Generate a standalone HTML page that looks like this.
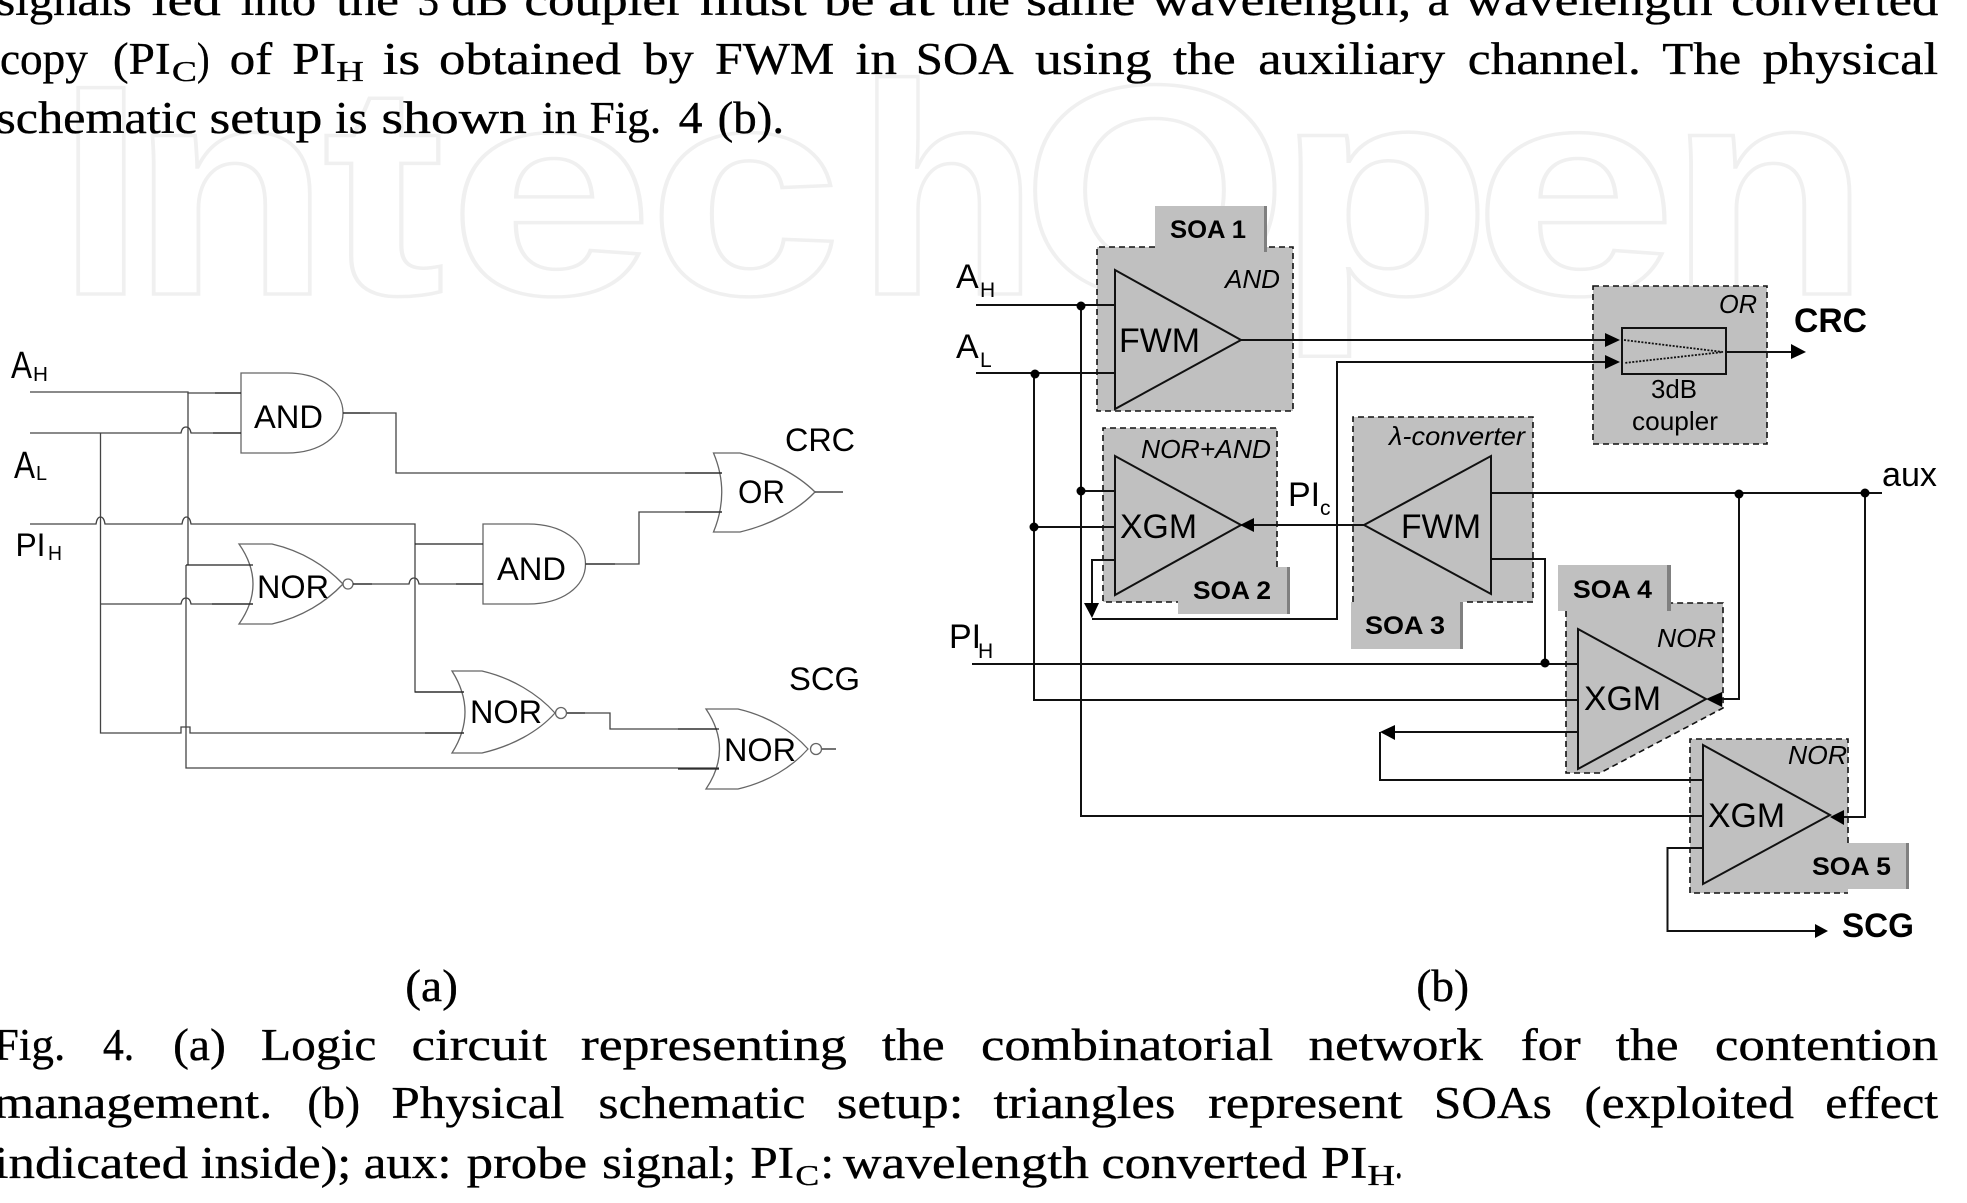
<!DOCTYPE html>
<html><head><meta charset="utf-8"><style>
html,body{margin:0;padding:0;background:#fff}
svg{display:block}
.s{font-family:"Liberation Serif",serif;font-size:45px;fill:#000;stroke:#000;stroke-width:.35}
.sub{font-size:29px}
.a{font-family:"Liberation Sans",sans-serif;fill:#000}
.g{fill:none;stroke:#666;stroke-width:1.3}
.l{fill:none;stroke:#444;stroke-width:1.3}
.k{fill:none;stroke:#111;stroke-width:2}
.d{fill:none;stroke:#111;stroke-width:1.6;stroke-dasharray:6 4}
.b{fill:#c0c0c0}
.e{fill:#808080}
.w{font-family:"Liberation Sans",sans-serif;font-weight:bold;font-size:300px;fill:#fff;stroke:#f0f0f0;stroke-width:3.5}
</style></head><body>
<svg xmlns="http://www.w3.org/2000/svg" width="1967" height="1203" viewBox="0 0 1967 1203">
<g class="w">
<text x="57" y="294" textLength="88" lengthAdjust="spacingAndGlyphs">I</text>
<text x="131" y="294" textLength="199" lengthAdjust="spacingAndGlyphs">n</text>
<text x="322" y="294" textLength="123" lengthAdjust="spacingAndGlyphs">t</text>
<text x="448" y="294" textLength="206" lengthAdjust="spacingAndGlyphs">e</text>
<text x="648" y="294" textLength="194" lengthAdjust="spacingAndGlyphs">c</text>
<text x="856" y="294" textLength="183" lengthAdjust="spacingAndGlyphs">h</text>
<text x="1021" y="294" textLength="268" lengthAdjust="spacingAndGlyphs">O</text>
<text x="1276" y="294" textLength="216" lengthAdjust="spacingAndGlyphs">p</text>
<text x="1473" y="294" textLength="204" lengthAdjust="spacingAndGlyphs">e</text>
<text x="1668" y="294" textLength="202" lengthAdjust="spacingAndGlyphs">n</text>
</g>

<g transform="scale(1.2545,1)" class="s">
<text x="-3" y="15" textLength="108" lengthAdjust="spacingAndGlyphs">signals</text><text x="121" y="15" textLength="55" lengthAdjust="spacingAndGlyphs">led</text><text x="192" y="15" textLength="60" lengthAdjust="spacingAndGlyphs">into</text><text x="268" y="15" textLength="50" lengthAdjust="spacingAndGlyphs">the</text><text x="333" y="15" textLength="17" lengthAdjust="spacingAndGlyphs">3</text><text x="360" y="15" textLength="45" lengthAdjust="spacingAndGlyphs">dB</text><text x="418" y="15" textLength="127" lengthAdjust="spacingAndGlyphs">coupler</text><text x="558" y="15" textLength="85" lengthAdjust="spacingAndGlyphs">must</text><text x="657" y="15" textLength="40" lengthAdjust="spacingAndGlyphs">be</text><text x="708" y="15" textLength="37" lengthAdjust="spacingAndGlyphs">at</text><text x="758" y="15" textLength="47" lengthAdjust="spacingAndGlyphs">the</text><text x="818" y="15" textLength="87" lengthAdjust="spacingAndGlyphs">same</text><text x="918" y="15" textLength="207" lengthAdjust="spacingAndGlyphs">wavelength,</text><text x="1138" y="15" textLength="17" lengthAdjust="spacingAndGlyphs">a</text><text x="1168" y="15" textLength="197" lengthAdjust="spacingAndGlyphs">wavelength</text><text x="1380" y="15" textLength="165" lengthAdjust="spacingAndGlyphs">converted</text>

<text x="0" y="74" textLength="70" lengthAdjust="spacingAndGlyphs">copy</text><text x="90" y="74" textLength="46" lengthAdjust="spacingAndGlyphs">(PI</text><text x="137" y="81" class="sub" textLength="20" lengthAdjust="spacingAndGlyphs">C</text><text x="157" y="74" textLength="10" lengthAdjust="spacingAndGlyphs">)</text><text x="183" y="74" textLength="34" lengthAdjust="spacingAndGlyphs">of</text><text x="233" y="74" textLength="35" lengthAdjust="spacingAndGlyphs">PI</text><text x="268" y="81" class="sub" textLength="22" lengthAdjust="spacingAndGlyphs">H</text><text x="305" y="74" textLength="30" lengthAdjust="spacingAndGlyphs">is</text><text x="350" y="74" textLength="145" lengthAdjust="spacingAndGlyphs">obtained</text><text x="513" y="74" textLength="40" lengthAdjust="spacingAndGlyphs">by</text><text x="570" y="74" textLength="95" lengthAdjust="spacingAndGlyphs">FWM</text><text x="682" y="74" textLength="33" lengthAdjust="spacingAndGlyphs">in</text><text x="730" y="74" textLength="78" lengthAdjust="spacingAndGlyphs">SOA</text><text x="825" y="74" textLength="93" lengthAdjust="spacingAndGlyphs">using</text><text x="935" y="74" textLength="50" lengthAdjust="spacingAndGlyphs">the</text><text x="1003" y="74" textLength="149" lengthAdjust="spacingAndGlyphs">auxiliary</text><text x="1170" y="74" textLength="138" lengthAdjust="spacingAndGlyphs">channel.</text><text x="1325" y="74" textLength="63" lengthAdjust="spacingAndGlyphs">The</text><text x="1405" y="74" textLength="140" lengthAdjust="spacingAndGlyphs">physical</text>

<text x="-3" y="133" textLength="160" lengthAdjust="spacingAndGlyphs">schematic</text><text x="167" y="133" textLength="90" lengthAdjust="spacingAndGlyphs">setup</text><text x="267" y="133" textLength="26" lengthAdjust="spacingAndGlyphs">is</text><text x="304" y="133" textLength="116" lengthAdjust="spacingAndGlyphs">shown</text><text x="432" y="133" textLength="28" lengthAdjust="spacingAndGlyphs">in</text><text x="470" y="133" textLength="57" lengthAdjust="spacingAndGlyphs">Fig.</text><text x="541" y="133" textLength="19" lengthAdjust="spacingAndGlyphs">4</text><text x="572" y="133" textLength="53" lengthAdjust="spacingAndGlyphs">(b).</text>

<text x="323" y="1001" textLength="42" lengthAdjust="spacingAndGlyphs">(a)</text><text x="1129" y="1001" textLength="42" lengthAdjust="spacingAndGlyphs">(b)</text>

<text x="-5" y="1060" textLength="57" lengthAdjust="spacingAndGlyphs">Fig.</text><text x="82" y="1060" textLength="25" lengthAdjust="spacingAndGlyphs">4.</text><text x="138" y="1060" textLength="42" lengthAdjust="spacingAndGlyphs">(a)</text><text x="208" y="1060" textLength="92" lengthAdjust="spacingAndGlyphs">Logic</text><text x="328" y="1060" textLength="108" lengthAdjust="spacingAndGlyphs">circuit</text><text x="463" y="1060" textLength="212" lengthAdjust="spacingAndGlyphs">representing</text><text x="703" y="1060" textLength="50" lengthAdjust="spacingAndGlyphs">the</text><text x="782" y="1060" textLength="233" lengthAdjust="spacingAndGlyphs">combinatorial</text><text x="1043" y="1060" textLength="139" lengthAdjust="spacingAndGlyphs">network</text><text x="1212" y="1060" textLength="48" lengthAdjust="spacingAndGlyphs">for</text><text x="1288" y="1060" textLength="50" lengthAdjust="spacingAndGlyphs">the</text><text x="1367" y="1060" textLength="178" lengthAdjust="spacingAndGlyphs">contention</text>

<text x="-5" y="1118" textLength="222" lengthAdjust="spacingAndGlyphs">management.</text><text x="245" y="1118" textLength="42" lengthAdjust="spacingAndGlyphs">(b)</text><text x="312" y="1118" textLength="138" lengthAdjust="spacingAndGlyphs">Physical</text><text x="477" y="1118" textLength="165" lengthAdjust="spacingAndGlyphs">schematic</text><text x="667" y="1118" textLength="101" lengthAdjust="spacingAndGlyphs">setup:</text><text x="792" y="1118" textLength="145" lengthAdjust="spacingAndGlyphs">triangles</text><text x="963" y="1118" textLength="155" lengthAdjust="spacingAndGlyphs">represent</text><text x="1143" y="1118" textLength="94" lengthAdjust="spacingAndGlyphs">SOAs</text><text x="1263" y="1118" textLength="167" lengthAdjust="spacingAndGlyphs">(exploited</text><text x="1455" y="1118" textLength="90" lengthAdjust="spacingAndGlyphs">effect</text>

<text x="-5" y="1178" textLength="155" lengthAdjust="spacingAndGlyphs">indicated</text><text x="160" y="1178" textLength="120" lengthAdjust="spacingAndGlyphs">inside);</text><text x="290" y="1178" textLength="70" lengthAdjust="spacingAndGlyphs">aux:</text><text x="372" y="1178" textLength="96" lengthAdjust="spacingAndGlyphs">probe</text><text x="480" y="1178" textLength="107" lengthAdjust="spacingAndGlyphs">signal;</text><text x="598" y="1178" textLength="35" lengthAdjust="spacingAndGlyphs">PI</text><text x="634" y="1185" class="sub" textLength="19" lengthAdjust="spacingAndGlyphs">C</text><text x="654" y="1178" textLength="11" lengthAdjust="spacingAndGlyphs">:</text><text x="672" y="1178" textLength="196" lengthAdjust="spacingAndGlyphs">wavelength</text><text x="878" y="1178" textLength="164" lengthAdjust="spacingAndGlyphs">converted</text><text x="1053" y="1178" textLength="37" lengthAdjust="spacingAndGlyphs">PI</text><text x="1090" y="1185" class="sub" textLength="22" lengthAdjust="spacingAndGlyphs">H</text><text x="1112" y="1178" textLength="6" lengthAdjust="spacingAndGlyphs">.</text>
</g>

<!-- (a) logic circuit -->
<g>
<path class="g" d="M241 373H287C320 373 343 390 343 413C343 436 320 453 287 453H241Z"/>
<path class="g" d="M483 524H528C562 524 585.500 541 585.500 564C585.500 587 562 604 528 604H483Z"/>
<path class="g" d="M713.500 453H740C770 460 798 475 815 492C798 510 770 525 740 532H713.500Q730 492 713.500 453Z"/>
<path class="g" d="M239 544H272C302 551 326 566 343 584C326 602 302 617 272 624H239Q267 584 239 544Z"/>
<circle class="g" cx="348" cy="584" r="5"/>
<path class="g" d="M452 671H482C512 678 538 694 555 713C538 732 512 746 482 753H452Q478 712 452 671Z"/>
<circle class="g" cx="561" cy="713" r="5.500"/>
<path class="g" d="M706 709H738C768 716 792 731 808 749C792 767 768 782 738 789H706Q733 749 706 709Z"/>
<circle class="g" cx="816" cy="749" r="5.500"/>

<path class="l" d="M30 392H188V393H241"/>
<path class="l" d="M30 433H181Q182 427 186 427Q190 427 191 433H241"/>
<path class="l" d="M188 393V565"/>
<path class="l" d="M186 565V768H719"/>
<path class="l" d="M100.500 433V733H181V727H190V733H464"/>
<path class="l" d="M100.500 604H181Q182 598 186 598Q190 598 191 604H253"/>
<path class="l" d="M30 524H96Q97 517 100.500 517Q104 517 105 524H182Q183 517 186.500 517Q190 517 191 524H415V692H464"/>
<path class="l" d="M353 584H409Q410 578 414 578Q418 578 419 584H483"/>
<path class="l" d="M343 413H396V473H722"/>
<path class="l" d="M585.500 564H639V512H722"/>
<path class="l" d="M567 713H610V729H717"/>
<path d="M215 393H241M213 433H241M343 413H370M685 473H722M685 512H722M815 492H843M415 544H483M456 584H483M585.500 564H615M186 565H253M212 604H253M425 733H464M415 692H464M678 729H719M678 769H719M567 713H585M822 749H836M353 584H372" stroke="#222" stroke-width="1.300" fill="none"/>

<g class="a" font-size="32">
<text x="254" y="428" textLength="69" lengthAdjust="spacingAndGlyphs">AND</text>
<text x="497" y="580" textLength="69" lengthAdjust="spacingAndGlyphs">AND</text>
<text x="257" y="598" textLength="72" lengthAdjust="spacingAndGlyphs">NOR</text>
<text x="470" y="723" textLength="72" lengthAdjust="spacingAndGlyphs">NOR</text>
<text x="724" y="761" textLength="72" lengthAdjust="spacingAndGlyphs">NOR</text>
<text x="738" y="503" textLength="47" lengthAdjust="spacingAndGlyphs">OR</text>
<text x="785" y="451" textLength="70" lengthAdjust="spacingAndGlyphs">CRC</text>
<text x="789" y="690" textLength="71" lengthAdjust="spacingAndGlyphs">SCG</text>
<text x="11" y="378" font-size="38" textLength="21" lengthAdjust="spacingAndGlyphs">A</text>
<text x="33" y="381" font-size="20" textLength="15" lengthAdjust="spacingAndGlyphs">H</text>
<text x="14" y="478" font-size="38" textLength="21" lengthAdjust="spacingAndGlyphs">A</text>
<text x="36" y="480" font-size="20" textLength="11" lengthAdjust="spacingAndGlyphs">L</text>
<text x="15.500" y="556" textLength="30" lengthAdjust="spacingAndGlyphs">PI</text>
<text x="48" y="560" font-size="20" textLength="14" lengthAdjust="spacingAndGlyphs">H</text>
</g>
</g>

<!-- (b) physical setup -->
<g>
<rect class="b" x="1097" y="247" width="196" height="164"/>
<rect class="b" x="1155" y="206" width="112" height="46"/>
<rect class="e" x="1264" y="206" width="3" height="46"/>
<path class="d" d="M1155 247H1097V411H1293V247H1267"/>

<rect class="b" x="1103" y="428" width="174" height="174"/>
<rect class="b" x="1178" y="567" width="112" height="47"/>
<rect class="e" x="1287" y="567" width="3" height="47"/>
<path class="d" d="M1277 567V428H1103V602H1178"/>

<rect class="b" x="1353" y="417" width="180" height="185"/>
<rect class="b" x="1351" y="602" width="112" height="47"/>
<rect class="e" x="1460" y="602" width="3" height="47"/>
<path class="d" d="M1353 602V417H1533V602H1463"/>

<polygon class="b" points="1566,603 1723,603 1723,708 1600,773 1566,773"/>
<rect class="b" x="1558" y="565" width="113" height="46"/>
<rect class="e" x="1667" y="565" width="4" height="46"/>
<path class="d" d="M1566 611V773H1600L1723 708V603H1671"/>

<rect class="b" x="1690" y="739" width="158" height="154"/>
<rect class="b" x="1780" y="843" width="129" height="46"/>
<rect class="e" x="1906" y="843" width="3" height="46"/>
<path class="d" d="M1848 843V739H1690V893H1848"/>

<rect class="b" x="1593" y="286" width="174" height="158"/>
<path class="d" d="M1593 286H1767V444H1593Z"/>

<g class="k">
<polygon points="1115,270 1241,340 1115,409"/>
<polygon points="1115,456 1241,525 1115,595"/>
<polygon points="1364,525 1491,456 1491,594"/>
<polygon points="1578,629 1706,699 1578,769"/>
<polygon points="1703,745 1830,815 1703,884"/>
<rect x="1622" y="328" width="104" height="46"/>
<path d="M976 305H1115M976 373H1115"/>
<path d="M1081 305V816H1703"/>
<path d="M1081 491H1115"/>
<path d="M1034 373V700H1578"/>
<path d="M1034 527H1115"/>
<path d="M1115 560H1092V610"/>
<path d="M1092 619H1337V362H1605"/>
<path d="M1241 340H1605"/>
<path d="M1726 352H1791"/>
<path d="M1254 525H1364"/>
<path d="M1491 493H1882"/>
<path d="M1491 559H1545V663"/>
<path d="M972 664H1578"/>
<path d="M1739 493V699H1722"/>
<path d="M1865 493V817H1844"/>
<path d="M1578 732H1395"/>
<path d="M1380 732V780H1703"/>
<path d="M1703 848H1667.500V931H1815"/>
</g>
<path d="M1624 340L1723 352L1624 363" fill="none" stroke="#111" stroke-width="1.800" stroke-dasharray="2 1.500"/>
<g fill="#000">
<polygon points="1620,340 1605,333 1605,347"/>
<polygon points="1620,362 1605,355 1605,369"/>
<polygon points="1806,352 1791,344 1791,359"/>
<polygon points="1240,525 1254,518 1254,532"/>
<polygon points="1092,618 1084,603 1099,603"/>
<polygon points="1706,699 1722,692 1722,707"/>
<polygon points="1380,732 1395,725 1395,740"/>
<polygon points="1830,817 1844,810 1844,825"/>
<polygon points="1828,931 1815,924 1815,938"/>
<circle cx="1081" cy="306" r="4.500"/><circle cx="1035" cy="374" r="4.500"/><circle cx="1081" cy="491" r="4.500"/><circle cx="1034" cy="527" r="4.500"/>
<circle cx="1739" cy="494" r="4.500"/><circle cx="1865" cy="493" r="4.500"/><circle cx="1545" cy="663" r="4.500"/>
</g>

<g class="a" font-size="34">
<text x="956" y="288">A</text><text x="980" y="297" font-size="21">H</text>
<text x="956" y="358">A</text><text x="980" y="367" font-size="21">L</text>
<text x="949" y="648">PI</text><text x="978" y="658" font-size="21">H</text>
<text x="1288" y="506">PI</text><text x="1320" y="515" font-size="21">c</text>
<text x="1119" y="352" textLength="81" lengthAdjust="spacingAndGlyphs">FWM</text>
<text x="1120" y="538" textLength="77" lengthAdjust="spacingAndGlyphs">XGM</text>
<text x="1401" y="538" textLength="80" lengthAdjust="spacingAndGlyphs">FWM</text>
<text x="1584" y="710" textLength="77" lengthAdjust="spacingAndGlyphs">XGM</text>
<text x="1708" y="827" textLength="77" lengthAdjust="spacingAndGlyphs">XGM</text>
<text x="1882" y="486" textLength="55" lengthAdjust="spacingAndGlyphs">aux</text>
<text x="1794" y="332" font-weight="bold" textLength="73" lengthAdjust="spacingAndGlyphs">CRC</text>
<text x="1842" y="937" font-weight="bold" textLength="72" lengthAdjust="spacingAndGlyphs">SCG</text>
</g>
<g class="a" font-size="25" font-weight="bold">
<text x="1170" y="238" textLength="76" lengthAdjust="spacingAndGlyphs">SOA 1</text>
<text x="1193" y="599" textLength="78" lengthAdjust="spacingAndGlyphs">SOA 2</text>
<text x="1365" y="634" textLength="80" lengthAdjust="spacingAndGlyphs">SOA 3</text>
<text x="1573" y="598" textLength="79" lengthAdjust="spacingAndGlyphs">SOA 4</text>
<text x="1812" y="875" textLength="79" lengthAdjust="spacingAndGlyphs">SOA 5</text>
</g>
<g class="a" font-size="26" font-style="italic">
<text x="1225" y="288" textLength="55" lengthAdjust="spacingAndGlyphs">AND</text>
<text x="1141" y="458" textLength="130" lengthAdjust="spacingAndGlyphs">NOR+AND</text>
<text x="1389" y="445" textLength="136" lengthAdjust="spacingAndGlyphs">λ-converter</text>
<text x="1719" y="313" textLength="38" lengthAdjust="spacingAndGlyphs">OR</text>
<text x="1657" y="647" textLength="59" lengthAdjust="spacingAndGlyphs">NOR</text>
<text x="1788" y="764" textLength="59" lengthAdjust="spacingAndGlyphs">NOR</text>
</g>
<g class="a" font-size="26">
<text x="1651" y="398" textLength="46" lengthAdjust="spacingAndGlyphs">3dB</text>
<text x="1632" y="430" textLength="86" lengthAdjust="spacingAndGlyphs">coupler</text>
</g>
</g>
</svg>
</body></html>
